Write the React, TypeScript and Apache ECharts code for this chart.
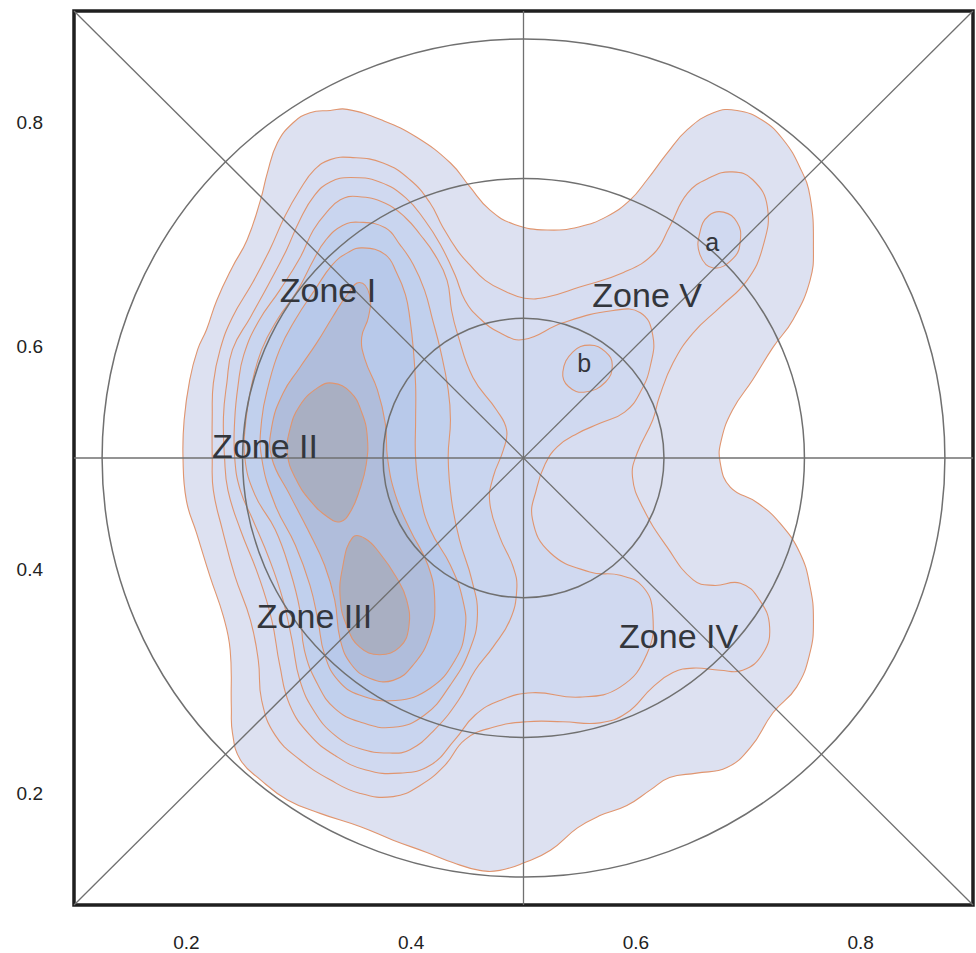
import React, { useEffect, useRef } from 'react';
import * as echarts from 'echarts';

// ---- axis ticks ----
const xTicks = [0.2, 0.4, 0.6, 0.8];
const yTicks = [0.2, 0.4, 0.6, 0.8];

// ---- density contour outlines (data coordinates), outermost level first ----
const contour1 = [[.343,.812],[.375,.802],[.405,.787],[.435,.764],[.452,.743],[.470,.722],[.492,.709],[.521,.704],[.550,.707],[.574,.716],[.595,.731],[.610,.749],[.628,.773],[.646,.794],[.669,.809],[.690,.811],[.713,.802],[.731,.785],[.746,.760],[.755,.734],[.758,.689],[.755,.659],[.740,.624],[.722,.599],[.704,.570],[.686,.543],[.676,.516],[.675,.496],[.684,.474],[.708,.460],[.728,.442],[.746,.415],[.755,.385],[.758,.355],[.755,.326],[.743,.295],[.722,.272],[.702,.241],[.681,.223],[.654,.218],[.630,.214],[.613,.203],[.592,.189],[.568,.180],[.548,.169],[.524,.149],[.501,.138],[.479,.131],[.461,.131],[.437,.138],[.414,.147],[.384,.158],[.355,.170],[.319,.182],[.290,.194],[.266,.212],[.248,.230],[.241,.254],[.240,.277],[.239,.328],[.233,.358],[.221,.394],[.209,.433],[.200,.462],[.197,.500],[.198,.534],[.203,.570],[.210,.597],[.218,.615],[.227,.641],[.241,.671],[.254,.695],[.266,.731],[.272,.755],[.281,.782],[.295,.800],[.310,.809],[.328,.811]];
const contour2 = [[.346,.769],[.375,.764],[.399,.749],[.417,.728],[.428,.707],[.441,.686],[.452,.673],[.466,.659],[.484,.649],[.501,.643],[.521,.644],[.550,.653],[.589,.666],[.616,.683],[.630,.707],[.646,.737],[.666,.751],[.686,.756],[.704,.749],[.717,.725],[.713,.689],[.699,.659],[.675,.635],[.651,.612],[.633,.585],[.621,.555],[.615,.534],[.601,.504],[.597,.483],[.606,.456],[.628,.420],[.651,.391],[.669,.386],[.693,.388],[.710,.373],[.719,.349],[.713,.325],[.695,.310],[.675,.310],[.651,.312],[.633,.308],[.615,.295],[.592,.272],[.568,.263],[.535,.264],[.503,.264],[.473,.259],[.448,.248],[.430,.225],[.408,.207],[.384,.197],[.354,.200],[.328,.212],[.301,.230],[.279,.252],[.267,.283],[.264,.319],[.257,.355],[.243,.395],[.232,.436],[.224,.471],[.223,.500],[.223,.537],[.224,.567],[.230,.597],[.241,.626],[.259,.657],[.274,.686],[.288,.717],[.301,.740],[.314,.758],[.328,.767]];
const contour3 = [[.346,.751],[.372,.747],[.395,.733],[.412,.713],[.426,.691],[.439,.664],[.448,.641],[.461,.625],[.479,.612],[.500,.606],[.535,.621],[.580,.632],[.604,.630],[.615,.610],[.613,.583],[.604,.559],[.590,.541],[.568,.531],[.548,.522],[.530,.510],[.519,.494],[.512,.474],[.508,.445],[.524,.415],[.559,.398],[.586,.395],[.606,.385],[.615,.361],[.610,.325],[.586,.295],[.550,.286],[.508,.290],[.479,.283],[.457,.270],[.439,.248],[.417,.225],[.390,.218],[.359,.221],[.332,.234],[.310,.252],[.292,.279],[.283,.315],[.276,.355],[.264,.395],[.248,.436],[.237,.471],[.234,.500],[.233,.537],[.236,.567],[.241,.597],[.257,.626],[.274,.657],[.289,.686],[.301,.713],[.314,.735],[.328,.747]];
const contour3a = [[.678,.720],[.690,.711],[.693,.695],[.687,.679],[.669,.670],[.657,.682],[.657,.702],[.665,.717]];
const contour4 = [[.352,.734],[.377,.728],[.395,.715],[.408,.700],[.421,.682],[.432,.659],[.436,.632],[.441,.612],[.455,.572],[.476,.543],[.485,.525],[.482,.507],[.473,.483],[.470,.460],[.479,.429],[.491,.402],[.494,.382],[.488,.355],[.473,.331],[.457,.310],[.442,.283],[.421,.257],[.399,.239],[.381,.236],[.354,.240],[.332,.252],[.314,.273],[.301,.301],[.294,.337],[.286,.373],[.274,.409],[.259,.445],[.248,.471],[.243,.500],[.243,.534],[.246,.565],[.251,.592],[.264,.622],[.283,.650],[.301,.679],[.313,.704],[.324,.719],[.337,.731]];
const contour4b = [[.559,.601],[.573,.595],[.579,.583],[.573,.568],[.555,.559],[.540,.564],[.535,.577],[.544,.595]];
const contour5 = [[.354,.711],[.377,.706],[.390,.691],[.402,.673],[.412,.650],[.419,.624],[.426,.597],[.433,.561],[.435,.534],[.433,.500],[.436,.462],[.443,.427],[.454,.391],[.459,.359],[.452,.328],[.435,.297],[.412,.270],[.384,.259],[.354,.264],[.332,.276],[.317,.297],[.305,.328],[.301,.364],[.292,.400],[.279,.436],[.261,.467],[.252,.500],[.253,.534],[.258,.565],[.267,.597],[.281,.624],[.299,.650],[.313,.677],[.324,.695],[.339,.708]];
const contour6 = [[.357,.688],[.377,.682],[.387,.666],[.395,.646],[.399,.624],[.402,.597],[.404,.565],[.404,.534],[.404,.500],[.408,.467],[.417,.436],[.435,.404],[.446,.373],[.448,.346],[.439,.319],[.417,.294],[.386,.283],[.354,.288],[.335,.301],[.323,.324],[.317,.355],[.310,.386],[.297,.422],[.279,.458],[.267,.500],[.267,.534],[.273,.565],[.283,.597],[.297,.624],[.314,.650],[.330,.673],[.344,.684]];
const contour7 = [[.354,.657],[.363,.646],[.362,.626],[.356,.608],[.359,.588],[.370,.561],[.377,.531],[.379,.500],[.386,.467],[.399,.436],[.415,.404],[.421,.373],[.417,.342],[.402,.315],[.384,.301],[.363,.303],[.347,.315],[.337,.337],[.332,.373],[.323,.404],[.308,.436],[.292,.467],[.276,.500],[.276,.528],[.286,.558],[.301,.581],[.316,.603],[.330,.626],[.343,.646]];
const contour8a = [[.330,.567],[.346,.559],[.356,.541],[.361,.519],[.360,.494],[.354,.471],[.346,.452],[.337,.443],[.326,.447],[.310,.462],[.297,.482],[.290,.503],[.292,.525],[.301,.547],[.317,.563]];
const contour8b = [[.348,.429],[.339,.402],[.337,.373],[.343,.349],[.354,.331],[.372,.324],[.390,.331],[.398,.349],[.396,.373],[.387,.393],[.372,.415],[.359,.428]];

const contourShapes = [contour1, contour2, contour3, contour3a, contour4, contour4b, contour5, contour6, contour7, contour8a, contour8b];
const contourLevel = [1, 2, 3, 3, 4, 4, 5, 6, 7, 8, 8];

// ---- reference geometry ----
const circleCenter = [0.5, 0.5];
const circleRadii = [0.125, 0.25, 0.375];
const guideSegments = [
  [0.1, 0.9, 0.9, 0.1],
  [0.1, 0.1, 0.9, 0.9],
  [0.1, 0.5, 0.9, 0.5],
  [0.5, 0.1, 0.5, 0.9],
];

// ---- annotations ----
const zoneNames = ['Zone I', 'Zone II', 'Zone III', 'Zone IV', 'Zone V'];
const zoneX = [0.326, 0.270, 0.314, 0.638, 0.610];
const zoneY = [0.650, 0.511, 0.359, 0.341, 0.646];
const markNames = ['a', 'b'];
const markX = [0.668, 0.554];
const markY = [0.693, 0.585];

// ---- styles ----
const FONT = '"Liberation Sans", Arial, Helvetica, sans-serif';
const levelFill = ['#dde1f1', '#d7ddf1', '#d0d9f0', '#c9d5ef', '#c1d0ed', '#b8c9ea', '#b0bddb', '#a9afc2'];
const contourStroke = '#e0956f';
const guideColor = '#707070';

export default function App() {
  const ref = useRef<HTMLDivElement>(null);

  useEffect(() => {
    if (!ref.current) return;
    const chart = echarts.init(ref.current, null, { renderer: 'svg' });

    const labelData = [
      ...zoneNames.map((n, i) => [zoneX[i], zoneY[i], i]),
      ...markNames.map((n, i) => [markX[i], markY[i], zoneNames.length + i]),
    ];
    const allNames = [...zoneNames, ...markNames];

    const option: any = {
      animation: false,
      grid: {
        left: 74, right: 3, top: 11, bottom: 48,
        show: true, borderColor: '#1f1f1f', borderWidth: 3.5, backgroundColor: 'transparent',
      },
      xAxis: {
        type: 'value', min: 0.1, max: 0.9,
        axisLine: { show: false }, axisTick: { show: false }, splitLine: { show: false },
        axisLabel: {
          customValues: xTicks,
          formatter: (v: number) => v.toFixed(1),
          fontSize: 19, color: '#222222', fontFamily: FONT, margin: 28,
        },
      },
      yAxis: {
        type: 'value', min: 0.1, max: 0.9,
        axisLine: { show: false }, axisTick: { show: false }, splitLine: { show: false },
        axisLabel: {
          customValues: yTicks,
          formatter: (v: number) => v.toFixed(1),
          fontSize: 19, color: '#222222', fontFamily: FONT, margin: 31,
        },
      },
      series: [
        {
          type: 'custom', z: 2, silent: true,
          data: contourShapes.map((_, i) => [0.5, 0.5, i]),
          renderItem: (params: any, api: any) => {
            const idx = params.dataIndex;
            const pts = contourShapes[idx].map((p) => api.coord(p));
            return {
              type: 'polygon',
              shape: { points: pts, smooth: 0.45 },
              style: { fill: levelFill[contourLevel[idx] - 1], stroke: contourStroke, lineWidth: 1.1 },
            };
          },
        },
        {
          type: 'custom', z: 3, silent: true,
          data: guideSegments,
          renderItem: (params: any, api: any) => {
            const a = api.coord([api.value(0), api.value(1)]);
            const b = api.coord([api.value(2), api.value(3)]);
            return {
              type: 'line',
              shape: { x1: a[0], y1: a[1], x2: b[0], y2: b[1] },
              style: { stroke: guideColor, lineWidth: 1.3 },
            };
          },
        },
        {
          type: 'custom', z: 3, silent: true,
          data: circleRadii.map((r) => [circleCenter[0], circleCenter[1], r]),
          renderItem: (params: any, api: any) => {
            const c = api.coord([api.value(0), api.value(1)]);
            const r = api.value(2);
            const s = api.size([2 * r, 2 * r], [api.value(0), api.value(1)]);
            return {
              type: 'ellipse',
              shape: { cx: c[0], cy: c[1], rx: s[0] / 2, ry: s[1] / 2 },
              style: { fill: 'none', stroke: guideColor, lineWidth: 1.5 },
            };
          },
        },
        {
          type: 'custom', z: 4, silent: true,
          data: labelData,
          renderItem: (params: any, api: any) => {
            const p = api.coord([api.value(0), api.value(1)]);
            const k = api.value(2);
            const isZone = k < zoneNames.length;
            return {
              type: 'text',
              x: p[0], y: p[1],
              style: {
                text: allNames[k],
                fill: '#33363c',
                fontSize: isZone ? 34 : 25,
                fontFamily: FONT,
                align: 'center',
                verticalAlign: 'middle',
              },
            };
          },
        },
      ],
    };

    chart.setOption(option);
    return () => chart.dispose();
  }, []);

  return (
    <div
      ref={ref}
      style={{ position: 'absolute', left: 0, top: 0, width: 976, height: 953 }}
    />
  );
}
